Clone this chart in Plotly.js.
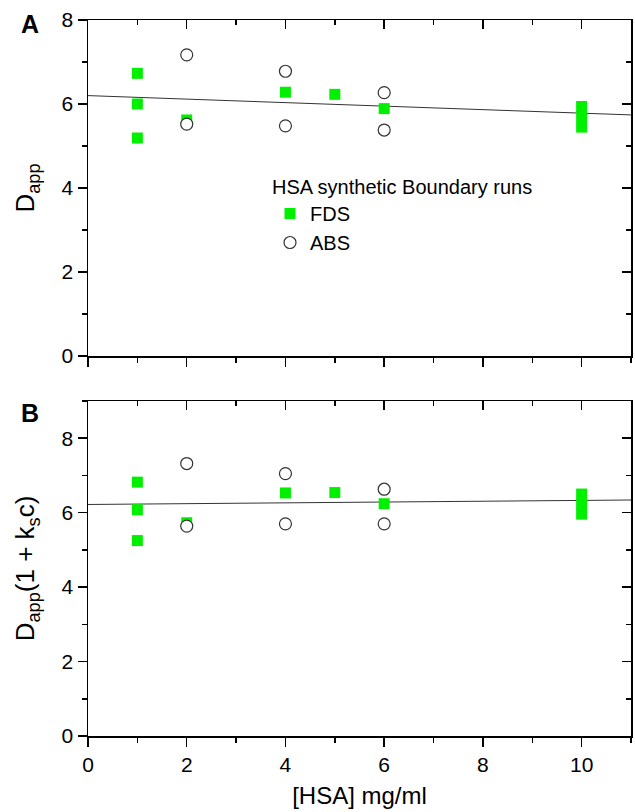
<!DOCTYPE html>
<html>
<head>
<meta charset="utf-8">
<script src="https://cdn.plot.ly/plotly-3.0.1.min.js"></script>
<style>html,body{margin:0;padding:0;background:#fff;}#chart{width:635px;height:812px;}</style>
</head>
<body>
<div id="chart"></div>
<script>
// ---- Data ----
const xFDS = [1, 1, 1, 2, 4, 5, 6, 10, 10, 10];
const xABS = [2, 2, 4, 4, 6, 6];

// Panel A: D_app
const fdsA = [6.73, 6.00, 5.19, 5.62, 6.28, 6.23, 5.89, 5.94, 5.70, 5.45];
const absA = [7.17, 5.52, 6.78, 5.48, 6.27, 5.38];
const fitX = [0, 11];
const fitA = [6.20, 5.74];

// Panel B: D_app(1 + k_s c)
const fdsB = [6.82, 6.08, 5.25, 5.73, 6.53, 6.54, 6.24, 6.50, 6.22, 5.96];
const absB = [7.32, 5.64, 7.05, 5.70, 6.63, 5.70];
const fitB = [6.22, 6.34];

const seriesNames = ['FDS', 'ABS'];
const legendTitle = 'HSA synthetic Boundary runs';
const xTitle = '[HSA] mg/ml';
const yTitleA = 'D<sub>app</sub>';
const yTitleB = 'D<sub>app</sub>(1 + k<sub>s</sub>c)';
const panelLabels = ['A', 'B'];

// ---- Styles ----
const FONT = 'Liberation Sans, Arial, sans-serif';
const GREEN = '#00f000';
const sq = {symbol: 'square', size: 11, color: GREEN, line: {width: 0}};
const circ = {symbol: 'circle', size: 12, color: '#ffffff', line: {width: 1.2, color: '#333333'}};
const fitLine = {color: '#333333', width: 1};

const traces = [
  // Panel A (x2/y2)
  {x: fitX, y: fitA, xaxis: 'x2', yaxis: 'y2', mode: 'lines', line: fitLine, showlegend: false, hoverinfo: 'skip'},
  {x: xFDS, y: fdsA, xaxis: 'x2', yaxis: 'y2', mode: 'markers', marker: sq, name: seriesNames[0], legendgroup: 'f'},
  {x: xABS, y: absA, xaxis: 'x2', yaxis: 'y2', mode: 'markers', marker: circ, name: seriesNames[1], legendgroup: 'a'},
  // Panel B (x/y)
  {x: fitX, y: fitB, xaxis: 'x', yaxis: 'y', mode: 'lines', line: fitLine, showlegend: false, hoverinfo: 'skip'},
  {x: xFDS, y: fdsB, xaxis: 'x', yaxis: 'y', mode: 'markers', marker: sq, name: seriesNames[0], showlegend: false},
  {x: xABS, y: absB, xaxis: 'x', yaxis: 'y', mode: 'markers', marker: circ, name: seriesNames[1], showlegend: false},
  // dummy traces to activate mirrored (inside-tick) axes
  {x: [null], y: [null], xaxis: 'x3', yaxis: 'y3', mode: 'markers', showlegend: false, hoverinfo: 'skip'},
  {x: [null], y: [null], xaxis: 'x4', yaxis: 'y4', mode: 'markers', showlegend: false, hoverinfo: 'skip'}
];

const tickCommon = {
  showgrid: false, zeroline: false, showline: true, linecolor: '#000', linewidth: 1.5,
  tickcolor: '#000', tickwidth: 1.5, ticklen: 9,
  tickfont: {family: FONT, size: 21, color: '#000'}
};
function minor(dir) { return {dtick: 1, ticks: dir, ticklen: 5, tickwidth: 1.5, tickcolor: '#000'}; }

const L = 88, R = 4, T = 20, B = 76;
const H = 812 - T - B;
const domA = [(736 - 356) / H, 1];
const domB = [0, (736 - 401) / H];
const yTitleFont = {family: FONT, size: 26, color: '#000'};

const layout = {
  width: 635, height: 812,
  margin: {l: L, r: R, t: T, b: B},
  paper_bgcolor: '#fff', plot_bgcolor: '#fff',
  font: {family: FONT, color: '#000'},
  showlegend: true,
  // Panel B
  xaxis: Object.assign({}, tickCommon, {
    domain: [0, 1], anchor: 'y', range: [0, 11], tick0: 0, dtick: 2, ticks: 'outside', minor: minor('outside'),
    title: {text: xTitle, font: {family: FONT, size: 24, color: '#000'}, standoff: 12}
  }),
  yaxis: Object.assign({}, tickCommon, {
    domain: domB, anchor: 'x', range: [0, 9], tick0: 0, dtick: 2, ticks: 'outside', minor: minor('outside'),
    title: {text: yTitleB, font: yTitleFont, standoff: 19}
  }),
  // Panel A
  xaxis2: Object.assign({}, tickCommon, {
    domain: [0, 1], anchor: 'y2', range: [0, 11], tick0: 0, dtick: 2, ticks: 'outside', minor: minor('outside'),
    showticklabels: false
  }),
  yaxis2: Object.assign({}, tickCommon, {
    domain: domA, anchor: 'x2', range: [0, 8], tick0: 0, dtick: 2, ticks: 'outside', minor: minor('outside'),
    title: {text: yTitleA, font: yTitleFont, standoff: 19}
  }),
  // mirrored axes (inside ticks) for Panel B
  xaxis3: Object.assign({}, tickCommon, {
    overlaying: 'x', anchor: 'y', side: 'top', range: [0, 11], tick0: 0, dtick: 2, ticks: 'inside', minor: minor('inside'),
    showticklabels: false
  }),
  yaxis3: Object.assign({}, tickCommon, {
    overlaying: 'y', anchor: 'x', side: 'right', range: [0, 9], tick0: 0, dtick: 2, ticks: 'inside', minor: minor('inside'),
    showticklabels: false
  }),
  // mirrored axes (inside ticks) for Panel A
  xaxis4: Object.assign({}, tickCommon, {
    overlaying: 'x2', anchor: 'y2', side: 'top', range: [0, 11], tick0: 0, dtick: 2, ticks: 'inside', minor: minor('inside'),
    showticklabels: false
  }),
  yaxis4: Object.assign({}, tickCommon, {
    overlaying: 'y2', anchor: 'x2', side: 'right', range: [0, 8], tick0: 0, dtick: 2, ticks: 'inside', minor: minor('inside'),
    showticklabels: false
  }),
  legend: {
    x: (270 - L) / 543, y: (736 - 168) / H, xanchor: 'left', yanchor: 'top',
    bgcolor: 'rgba(0,0,0,0)', borderwidth: 0,
    font: {family: FONT, size: 20, color: '#000'},
    title: {text: legendTitle, side: 'top', font: {family: FONT, size: 20, color: '#000'}},
    itemwidth: 30, traceorder: 'normal', tracegroupgap: 0
  },
  annotations: [
    {text: '<b>' + panelLabels[0] + '</b>', xref: 'paper', yref: 'paper', x: (30 - L) / 543, y: (736 - 24) / H,
     xanchor: 'center', yanchor: 'middle', showarrow: false, font: {family: FONT, size: 25, color: '#000'}},
    {text: '<b>' + panelLabels[1] + '</b>', xref: 'paper', yref: 'paper', x: (30 - L) / 543, y: (736 - 413) / H,
     xanchor: 'center', yanchor: 'middle', showarrow: false, font: {family: FONT, size: 25, color: '#000'}}
  ]
};

Plotly.newPlot('chart', traces, layout, {staticPlot: true, displayModeBar: false});
</script>
</body>
</html>
